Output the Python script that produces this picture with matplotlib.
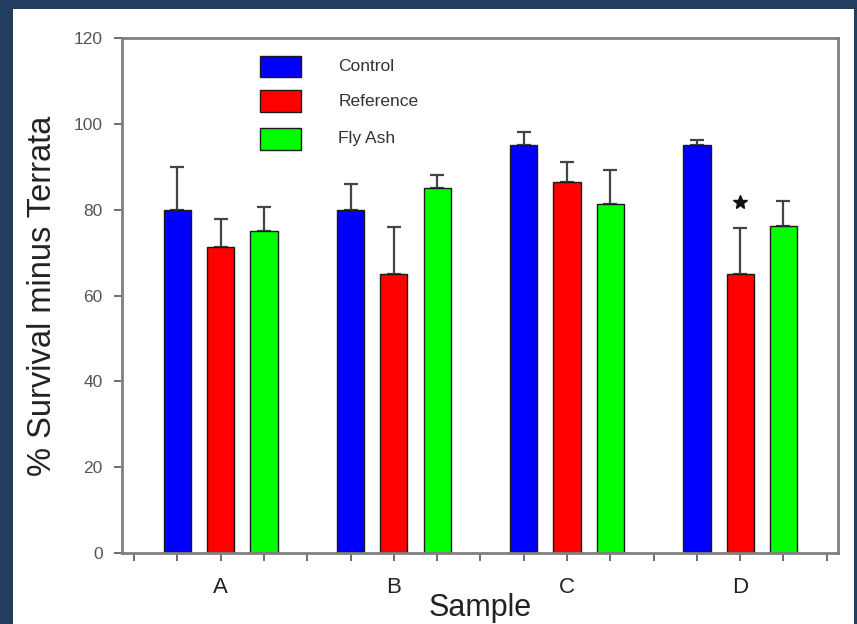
import matplotlib
matplotlib.use("Agg")
import matplotlib.pyplot as plt
from matplotlib.patches import Rectangle
import numpy as np

plt.rcParams['font.family'] = ['Liberation Sans', 'DejaVu Sans']

samples = ["A", "B", "C", "D"]
series_names = ["Control", "Reference", "Fly Ash"]
control = [80.0, 80.0, 95.1, 95.1]
reference = [71.4, 65.0, 86.4, 65.0]
fly_ash = [75.0, 85.0, 81.4, 76.2]
control_err = [10.0, 6.0, 3.0, 1.2]
reference_err = [6.4, 10.9, 4.8, 10.8]
fly_ash_err = [5.6, 3.1, 7.8, 5.9]
significant = [(3, 1)]  # (sample index, series index) marked with a star
y_ticks = [0, 20, 40, 60, 80, 100, 120]

colors = ["#0000ff", "#ff0000", "#00ff00"]
values = [control, reference, fly_ash]
errors = [control_err, reference_err, fly_ash_err]

fig = plt.figure(figsize=(8.57, 6.24), dpi=100)
fig.patch.set_facecolor("#233d5e")
fig.add_artist(Rectangle((13 / 857, 0), (854 - 13) / 857, (624 - 9) / 624,
                         transform=fig.transFigure, facecolor="white",
                         edgecolor="none", zorder=0))

ax = fig.add_axes([122 / 857, 1 - 553 / 624, (838 - 122) / 857, (553 - 38) / 624])
ax.set_facecolor("white")

group_step = 4
bar_w = 0.63
for s, (vals, errs, col) in enumerate(zip(values, errors, colors)):
    x = np.arange(len(samples)) * group_step + 1 + s
    ax.bar(x, vals, width=bar_w, color=col, edgecolor="#1a1a1a", linewidth=1.0, zorder=2)
    ax.errorbar(x, vals, yerr=[np.zeros(len(errs)), errs], fmt="none",
                ecolor="#444444", elinewidth=1.6, capsize=4.7, capthick=1.6, zorder=1)

for gi, si in significant:
    xs = gi * group_step + 1 + si
    ys = values[si][gi] + errors[si][gi] + 6
    ax.plot([xs], [ys], marker="*", color="#111111", markersize=10, zorder=3)

ax.set_xlim(-0.28, 16.26)
ax.set_ylim(0, 120)
ax.set_yticks(y_ticks)
ax.set_yticklabels([str(t) for t in y_ticks], fontsize=12.5, color="#555555")
ax.set_xticks(np.arange(0, 17), minor=True)
ax.set_xticks(np.arange(len(samples)) * group_step + 2)
ax.set_xticklabels(samples, fontsize=16, color="#222222")
ax.tick_params(axis="x", which="both", direction="out", length=6, width=1.2,
               color="#555555", pad=11)
ax.tick_params(axis="y", direction="out", length=6, width=1.2, color="#555555", pad=8)

for sp in ax.spines.values():
    sp.set_color("#808080")
    sp.set_linewidth(2.0)

ax.set_ylabel("% Survival minus Terrata", fontsize=23.5, color="#222222", labelpad=11)
ax.set_xlabel("Sample", fontsize=22, color="#222222", labelpad=-3)

# legend drawn as swatches with labels
leg_y = [113.3, 105.3, 96.5]
for name, col, yy in zip(series_names, colors, leg_y):
    ax.add_patch(Rectangle((2.9, yy - 2.5), 0.95, 5.0, facecolor=col,
                           edgecolor="#1a1a1a", linewidth=1.0, zorder=3))
    ax.text(4.72, yy, name, fontsize=12.5, color="#333333", va="center", ha="left")

fig.savefig("out.png", dpi=100, facecolor=fig.get_facecolor())
